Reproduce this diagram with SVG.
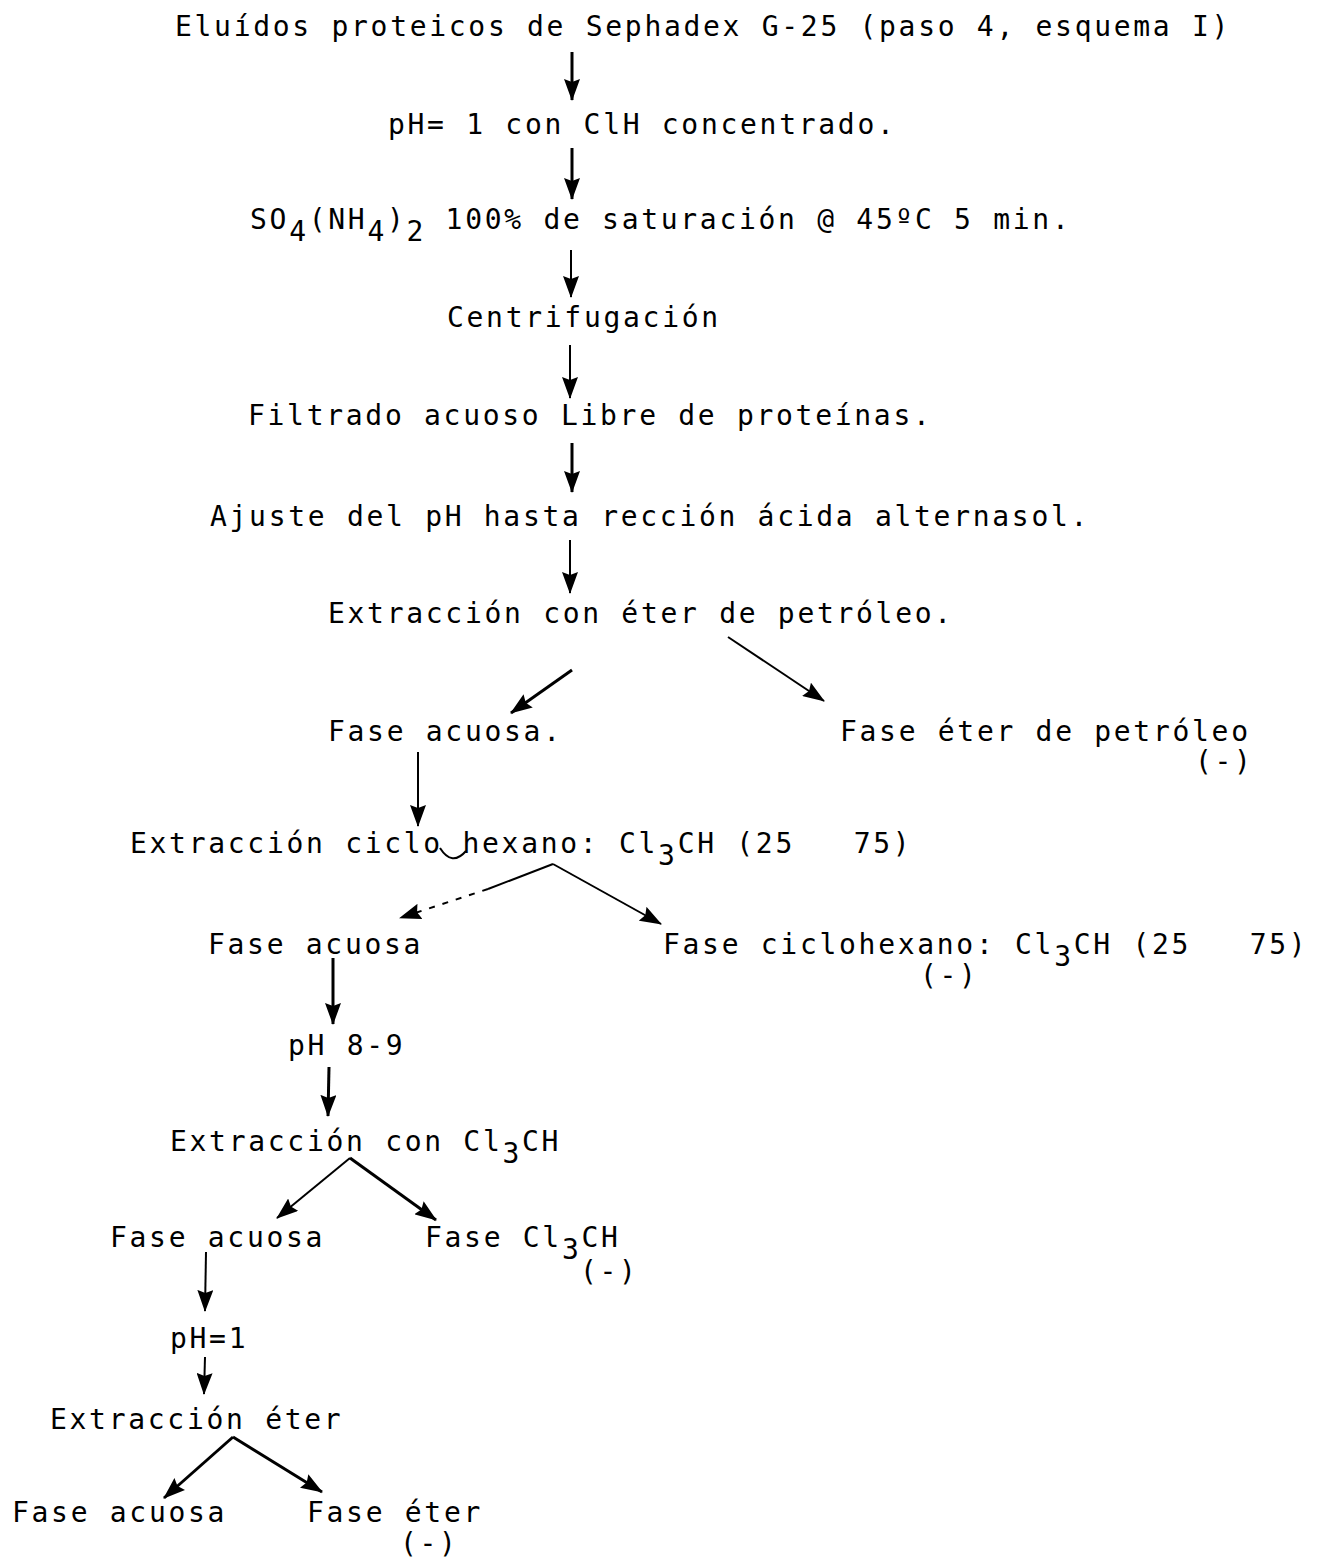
<svg xmlns="http://www.w3.org/2000/svg" width="1330" height="1558" viewBox="0 0 1330 1558" xml:space="preserve">
<style>
text { font-family: "DejaVu Sans Mono", "Liberation Mono", monospace; font-size: 28px; letter-spacing: 2.7px; fill: #000; white-space: pre; }
.c { stroke: #000; fill: none; stroke-width: 2; }
.t { stroke-width: 3; }
</style>
<defs>
<marker id="ah" markerUnits="userSpaceOnUse" viewBox="0 0 22 16" refX="21" refY="8" markerWidth="22" markerHeight="16" orient="auto">
<path d="M0,0 L22,8 L0,16 L3,8 z" fill="#000"/>
</marker>
</defs>
<rect width="1330" height="1558" fill="#fff"/>
<g id="connectors">
<line class="c t" x1="572" y1="52" x2="572" y2="100" marker-end="url(#ah)"/>
<line class="c t" x1="572" y1="148" x2="572" y2="199" marker-end="url(#ah)"/>
<line class="c" x1="571" y1="250" x2="571" y2="297" marker-end="url(#ah)"/>
<line class="c" x1="570" y1="345" x2="570" y2="398" marker-end="url(#ah)"/>
<line class="c t" x1="572" y1="443" x2="572" y2="492" marker-end="url(#ah)"/>
<line class="c" x1="570" y1="540" x2="570" y2="593" marker-end="url(#ah)"/>
<line class="c t" x1="572" y1="670" x2="511" y2="713" marker-end="url(#ah)"/>
<line class="c" x1="728" y1="637" x2="824" y2="701" marker-end="url(#ah)"/>
<line class="c" x1="418" y1="752" x2="418" y2="826" marker-end="url(#ah)"/>
<line class="c" x1="553" y1="864" x2="488" y2="889"/>
<line class="c" x1="488" y1="889" x2="400" y2="918" stroke-dasharray="6 8" marker-end="url(#ah)"/>
<line class="c" x1="553" y1="864" x2="661" y2="924" marker-end="url(#ah)"/>
<line class="c t" x1="333" y1="958" x2="333" y2="1024" marker-end="url(#ah)"/>
<line class="c t" x1="329" y1="1067" x2="328" y2="1116" marker-end="url(#ah)"/>
<line class="c" x1="350" y1="1158" x2="277" y2="1218" marker-end="url(#ah)"/>
<line class="c t" x1="350" y1="1158" x2="436" y2="1220" marker-end="url(#ah)"/>
<line class="c" x1="206" y1="1252" x2="205" y2="1311" marker-end="url(#ah)"/>
<line class="c" x1="205" y1="1357" x2="204" y2="1394" marker-end="url(#ah)"/>
<line class="c t" x1="233" y1="1437" x2="164" y2="1498" marker-end="url(#ah)"/>
<line class="c t" x1="233" y1="1437" x2="322" y2="1492" marker-end="url(#ah)"/>
</g>
<g id="n1"><text x="175" y="36">Eluídos proteicos de Sephadex G-25 (paso 4, esquema I)</text></g>
<g id="n2"><text x="388" y="134">pH= 1 con ClH concentrado.</text></g>
<g id="n3"><text x="250" y="229">SO<tspan dy="12">4</tspan><tspan dy="-12">(NH</tspan><tspan dy="12">4</tspan><tspan dy="-12">)</tspan><tspan dy="12">2</tspan><tspan dy="-12"> 100% de saturación @ 45ºC 5 min.</tspan></text></g>
<g id="n4"><text x="447" y="327">Centrifugación</text></g>
<g id="n5"><text x="248" y="425">Filtrado acuoso Libre de proteínas.</text></g>
<g id="n6"><text x="210" y="526">Ajuste del pH hasta rección ácida alternasol.</text></g>
<g id="n7"><text x="328" y="623">Extracción con éter de petróleo.</text></g>
<g id="n8"><text x="328" y="741">Fase acuosa.</text></g>
<g id="n9"><text x="840" y="741">Fase éter de petróleo<tspan x="1195" y="771">(-)</tspan></text></g>
<g id="n10"><text x="130" y="853">Extracción ciclo hexano: Cl<tspan dy="12">3</tspan><tspan dy="-12">CH (25   75)</tspan></text><path class="c" d="M440,848 Q452,867 466,851"/></g>
<g id="n11"><text x="208" y="954">Fase acuosa</text></g>
<g id="n12"><text x="663" y="954">Fase ciclohexano: Cl<tspan dy="12">3</tspan><tspan dy="-12">CH (25   75)</tspan><tspan x="920" y="985">(-)</tspan></text></g>
<g id="n13"><text x="288" y="1055">pH 8-9</text></g>
<g id="n14"><text x="170" y="1151">Extracción con Cl<tspan dy="12">3</tspan><tspan dy="-12">CH</tspan></text></g>
<g id="n15"><text x="110" y="1247">Fase acuosa</text></g>
<g id="n16"><text x="425" y="1247">Fase Cl<tspan dy="12">3</tspan><tspan dy="-12">CH</tspan><tspan x="580" y="1281">(-)</tspan></text></g>
<g id="n17"><text x="170" y="1348">pH=1</text></g>
<g id="n18"><text x="50" y="1429">Extracción éter</text></g>
<g id="n19"><text x="12" y="1522">Fase acuosa</text></g>
<g id="n20"><text x="307" y="1522">Fase éter<tspan x="400" y="1553">(-)</tspan></text></g>
</svg>
